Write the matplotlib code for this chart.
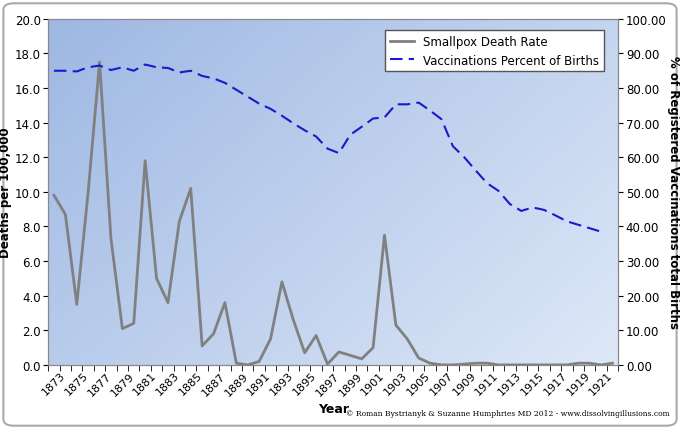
import numpy as np
import matplotlib
matplotlib.use("Agg")
import matplotlib.pyplot as plt
from matplotlib.patches import FancyBboxPatch

years = list(range(1873, 1923))
death_rate = [9.8, 8.7, 3.5, 10.0, 17.5, 7.3, 2.1, 2.4, 11.8, 5.0,
              3.6, 8.3, 10.2, 1.1, 1.8, 3.6, 0.1, 0.0, 0.2, 1.5,
              4.8, 2.6, 0.7, 1.7, 0.05, 0.75, 0.55, 0.35, 1.0, 7.5,
              2.3, 1.5, 0.4, 0.1, 0.0, 0.0, 0.05, 0.1, 0.1, 0.0,
              0.0, 0.0, 0.0, 0.0, 0.0, 0.0, 0.1, 0.1, 0.0, 0.1]
vacc_years = list(range(1873, 1922))
vacc_pct = [85, 85, 84.8, 86, 86.5, 85.2, 86, 85, 86.8, 86,
            85.8, 84.5, 85, 83.5, 82.8, 81.5, 79.5, 77.5, 75.5, 74,
            72, 69.8, 67.8, 66, 62.5, 61.2, 66.5, 68.8, 71.2, 71.5,
            75.3, 75.3, 75.8, 73.5, 71, 63.2, 60, 56.2, 52.5, 50.3,
            46.5, 44.5, 45.5, 44.8, 43.2, 41.5, 40.5, 39.5, 38.5]

fig = plt.figure(figsize=(6.8, 4.31), dpi=100)
frame = FancyBboxPatch((0.005, 0.01), 0.99, 0.98, boxstyle="round,pad=0,rounding_size=0.015",
                       transform=fig.transFigure, fc="white", ec="#aaaaaa", lw=1.5, zorder=-10)
fig.patches.append(frame)
ax = fig.add_axes([0.071, 0.151, 0.838, 0.803])

# gradient background
grad = np.linspace(0, 1, 256)
gx, gy = np.meshgrid(grad, grad)
t = np.clip((gx * 0.6 + gy * 0.4), 0, 1)
c0 = np.array([0.62, 0.72, 0.89])
c1 = np.array([0.87, 0.91, 0.97])
img = c0[None, None, :] * (1 - t[..., None]) + c1[None, None, :] * t[..., None]
ax.imshow(img, extent=[1872.5, 1922.5, 0, 20], aspect="auto", origin="upper", zorder=0)

l1, = ax.plot(years, death_rate, color="#808080", lw=2, label="Smallpox Death Rate", zorder=3)
ax.set_xlim(1872.5, 1922.5)
ax.set_ylim(0, 20)
ax.set_yticks(np.arange(0, 20.1, 2))
ax.set_yticklabels([f"{v:.1f}" for v in np.arange(0, 20.1, 2)], fontsize=8.5)
ax.set_xticks(range(1873, 1923, 2))
ax.set_xticklabels([str(y) for y in range(1873, 1923, 2)], rotation=45, fontsize=8)
ax.set_xticks(np.arange(1872.5, 1923, 1), minor=True)
ax.tick_params(axis="x", which="major", length=0)
ax.tick_params(axis="x", which="minor", length=4)
ax.tick_params(axis="y", pad=2)
ax.set_ylabel("Deaths per 100,000", fontsize=8.5, fontweight="bold", labelpad=2)
ax.set_xlabel("Year", fontsize=9, fontweight="bold")

ax2 = ax.twinx()
l2, = ax2.plot(vacc_years, vacc_pct, color="#1a1acc", lw=1.5, ls=(0, (6, 3)),
               label="Vaccinations Percent of Births")
ax2.set_ylim(0, 100)
ax2.set_yticks(np.arange(0, 100.1, 10))
ax2.set_yticklabels([f"{v:.2f}" for v in np.arange(0, 100.1, 10)], fontsize=8.5)
ax2.tick_params(axis="y", pad=2)
ax2.set_ylabel("% of Registered Vaccinations total Births", fontsize=8.5, fontweight="bold",
               rotation=270, labelpad=10)

for a in (ax, ax2):
    for s in a.spines.values():
        s.set_color("#888888")

ax2.legend(handles=[l1, l2], loc="upper right", fontsize=8.5, fancybox=False,
           edgecolor="#555555", framealpha=1, bbox_to_anchor=(0.985, 0.985))

fig.text(0.985, 0.035, "© Roman Bystrianyk & Suzanne Humphries MD 2012 - www.dissolvingillusions.com",
         ha="right", fontsize=5.5, family="DejaVu Serif")

fig.savefig("out.png", dpi=100)
